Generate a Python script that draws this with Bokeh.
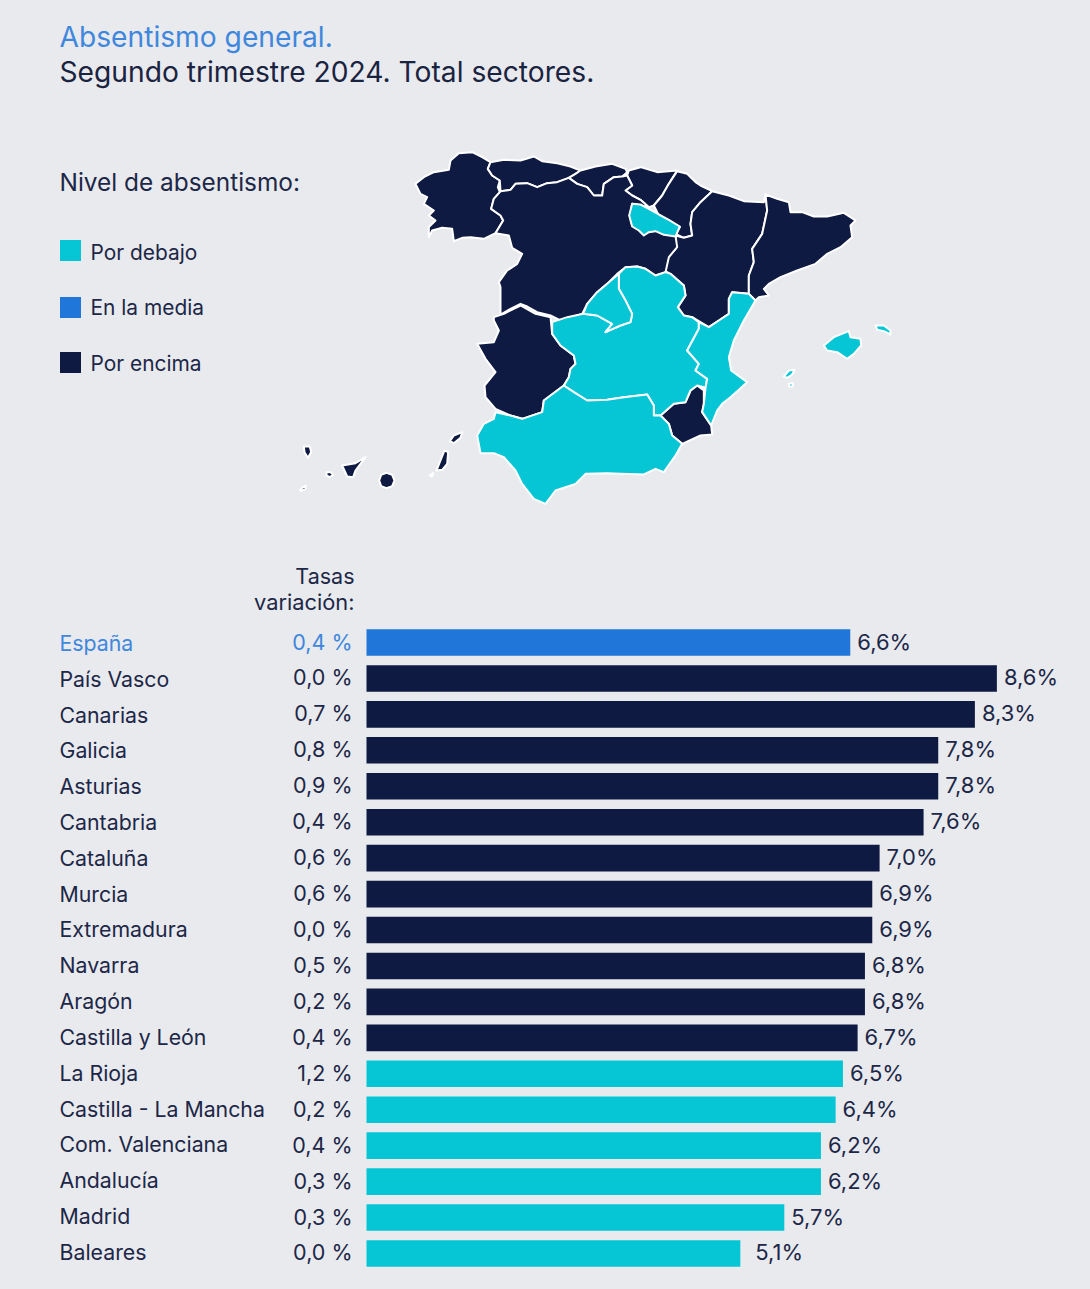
from bokeh.core.properties import value
from bokeh.embed import file_html
from bokeh.resources import INLINE
from bokeh.models import ColumnDataSource, Range1d
from bokeh.plotting import figure

# ---------- data ----------
title_lines = ["Absentismo general.", "Segundo trimestre 2024. Total sectores."]
legend_title = "Nivel de absentismo:"
legend_labels = ["Por debajo", "En la media", "Por encima"]
heading_lines = ["Tasas", "variación:"]

categories = ["España", "País Vasco", "Canarias", "Galicia", "Asturias", "Cantabria", "Cataluña", "Murcia",
              "Extremadura", "Navarra", "Aragón", "Castilla y León", "La Rioja", "Castilla - La Mancha",
              "Com. Valenciana", "Andalucía", "Madrid", "Baleares"]
values = [6.6, 8.6, 8.3, 7.8, 7.8, 7.6, 7.0, 6.9, 6.9, 6.8, 6.8, 6.7, 6.5, 6.4, 6.2, 6.2, 5.7, 5.1]
variation = [0.4, 0.0, 0.7, 0.8, 0.9, 0.4, 0.6, 0.6, 0.0, 0.5, 0.2, 0.4, 1.2, 0.2, 0.4, 0.3, 0.3, 0.0]
levels = ["En la media"] + ["Por encima"] * 11 + ["Por debajo"] * 6

# region outlines in map grid units
galicia = [(45,130),(70,110),(100,95),(145,88),(150,60),(175,38),(215,35),(245,50),(270,65),(262,85),(275,105),(298,120),(292,140),(298,155),(280,175),(272,205),(300,225),(308,240),(285,278),(250,295),(210,290),(185,292),(160,302),(155,265),(125,262),(95,270),(85,290),(85,260),(105,240),(85,225),(100,210),(70,190),(80,170),(60,160)]
asturias = [(270,65),(310,58),(360,60),(400,48),(425,62),(470,68),(510,78),(540,90),(525,100),(505,112),(470,125),(440,128),(410,140),(380,128),(345,130),(330,148),(300,152),(298,120),(275,105),(262,85)]
cantabria = [(540,90),(585,78),(635,70),(675,85),(680,95),(665,108),(640,110),(610,130),(605,165),(580,165),(560,140),(530,130),(505,112),(525,100)]
pais_vasco = [(685,90),(720,80),(770,95),(830,90),(805,130),(785,165),(760,195),(745,200),(720,178),(695,165),(675,150),(695,135),(680,105)]
navarra = [(830,92),(860,100),(885,125),(900,135),(935,152),(900,185),(875,215),(870,250),(875,285),(850,292),(825,280),(838,260),(805,240),(775,225),(760,195),(785,165),(805,130)]
aragon = [(935,152),(985,165),(1030,182),(1090,185),(1095,162),(1100,210),(1085,280),(1055,325),(1060,365),(1045,405),(1045,460),(995,455),(985,475),(985,520),(955,540),(925,560),(900,545),(875,530),(850,525),(832,500),(855,465),(850,435),(810,400),(790,390),(795,360),(825,325),(825,285),(850,292),(875,285),(870,250),(875,215),(900,185)]
cataluna = [(1095,162),(1130,175),(1165,185),(1170,215),(1205,215),(1240,228),(1280,228),(1330,217),(1365,240),(1350,255),(1355,290),(1320,320),(1280,340),(1245,370),(1190,390),(1140,410),(1105,430),(1090,445),(1105,465),(1075,470),(1065,480),(1045,460),(1045,405),(1060,365),(1055,325),(1085,280),(1100,210)]
castilla_leon = [(300,152),(330,148),(345,130),(380,128),(410,140),(440,128),(470,125),(505,112),(530,130),(560,140),(580,165),(605,165),(610,130),(640,110),(665,108),(680,105),(695,135),(675,150),(695,165),(720,178),(745,200),(695,190),(688,225),(695,255),(715,265),(730,282),(745,270),(765,268),(790,280),(825,285),(830,320),(805,350),(795,395),(765,405),(735,385),(710,378),(675,380),(650,400),(620,430),(590,455),(560,490),(545,520),(480,540),(450,525),(410,515),(380,498),(360,490),(330,505),(300,522),(300,440),(295,425),(320,390),(350,370),(365,340),(335,322),(325,285),(285,278),(308,240),(300,225),(272,205),(280,175),(298,155)]
la_rioja = [(695,190),(720,192),(745,205),(775,222),(805,238),(838,258),(825,288),(790,283),(765,272),(745,275),(730,285),(715,270),(695,258),(686,225)]
madrid = [(655,400),(620,430),(590,455),(560,490),(548,520),(590,525),(635,550),(615,575),(660,555),(690,545),(695,520),(675,480),(655,445)]
castilla_mancha = [(455,545),(500,530),(548,520),(590,525),(635,550),(615,575),(660,555),(690,545),(695,520),(675,480),(655,445),(655,400),(675,380),(710,378),(735,385),(765,405),(795,395),(810,400),(850,435),(855,465),(832,500),(850,525),(875,530),(895,545),(895,565),(860,630),(895,670),(885,690),(920,715),(915,742),(890,735),(870,750),(855,785),(820,790),(780,825),(760,825),(760,795),(740,762),(670,770),(620,778),(560,780),(520,755),(490,735),(505,710),(510,685),(525,670),(520,645),(480,615),(455,580)]
valencia = [(995,455),(1045,460),(1065,480),(1030,540),(1000,600),(985,650),(992,690),(1040,725),(990,770),(965,790),(950,810),(932,855),(905,815),(910,790),(915,742),(920,715),(885,690),(895,670),(860,630),(895,565),(895,545),(925,560),(955,540),(985,520),(985,475)]
murcia = [(780,825),(820,790),(855,785),(870,750),(890,735),(910,750),(910,790),(905,815),(932,855),(935,882),(900,885),(845,910),(815,885),(805,850)]
andalucia = [(285,815),(330,825),(365,835),(425,815),(430,780),(490,735),(520,755),(560,780),(620,778),(670,770),(740,762),(760,795),(760,825),(780,825),(805,850),(815,885),(845,910),(825,945),(790,995),(765,985),(730,1002),(660,1000),(620,998),(555,1000),(525,1030),(465,1050),(435,1090),(400,1075),(365,1030),(345,990),(310,950),(280,938),(240,938),(230,885),(250,850),(280,835)]
extremadura = [(280,530),(310,520),(360,495),(405,520),(450,530),(455,580),(480,615),(520,645),(525,670),(510,685),(505,710),(490,735),(430,780),(425,815),(365,835),(330,825),(285,805),(255,770),(252,735),(285,695),(255,655),(230,610),(280,605),(295,570),(280,540)]
mallorca = [(1270,615),(1300,590),(1345,572),(1350,590),(1380,595),(1382,615),(1360,640),(1340,655),(1310,635),(1280,630)]
menorca = [(1425,555),(1450,555),(1470,570),(1470,582),(1450,572),(1430,568)]
ibiza = [(1150,708),(1165,690),(1182,688),(1175,702),(1160,712)]
formentera = [(1165,730),(1178,728),(1176,738),(1166,738)]
la_palma = [(-290,918),(-272,918),(-268,935),(-278,952),(-288,935)]
la_gomera = [(-222,995),(-210,995),(-202,1003),(-212,1010),(-222,1005)]
el_hierro = [(-302,1048),(-285,1035),(-285,1045),(-298,1052)]
tenerife = [(-175,975),(-135,968),(-105,950),(-135,990),(-142,1010),(-160,1008)]
gran_canaria = [(-42,997),(-25,1003),(-18,1020),(-25,1037),(-42,1043),(-58,1037),(-64,1020),(-58,1003)]
fuerteventura = [(132,930),(143,935),(140,970),(125,988),(108,990),(120,960)]
lanzarote = [(148,902),(160,885),(185,875),(180,892),(160,908)]
la_graciosa = [(88,1005),(98,998),(95,1008)]

map_regions = [
    (galicia, "Por encima"), (asturias, "Por encima"), (cantabria, "Por encima"), (pais_vasco, "Por encima"),
    (navarra, "Por encima"), (aragon, "Por encima"), (cataluna, "Por encima"), (castilla_leon, "Por encima"),
    (extremadura, "Por encima"), (murcia, "Por encima"), (la_rioja, "Por debajo"), (castilla_mancha, "Por debajo"),
    (madrid, "Por debajo"), (valencia, "Por debajo"), (andalucia, "Por debajo"), (mallorca, "Por debajo"),
    (menorca, "Por debajo"), (ibiza, "Por debajo"), (formentera, "Por debajo"),
    (la_palma, "Por encima"), (la_gomera, "Por encima"), (el_hierro, "Por encima"), (tenerife, "Por encima"),
    (gran_canaria, "Por encima"), (fuerteventura, "Por encima"), (lanzarote, "Por encima"), (la_graciosa, "Por encima"),
]

# ---------- style ----------
BG = "#e8eaee"
INK = "#1d2747"
BLUE_TEXT = "#3f87dc"
COLORS = {"Por debajo": "#06c6d6", "En la media": "#2176d9", "Por encima": "#0f1a42"}
FONT = value("Inter")

W, H = 1090, 1289
PAGE_L, PAGE_T = 0, 0

p = figure(width=W, height=H, output_backend="svg", toolbar_location=None,
           x_axis_location=None, y_axis_location=None, min_border=0,
           x_range=Range1d(PAGE_L, PAGE_L + W), y_range=Range1d(PAGE_T + H, PAGE_T),
           background_fill_color=BG, border_fill_color=BG, outline_line_color=None)
p.grid.visible = False

# scale of bars: percent units and row units
BAR_ZERO, PX_PER_PCT = 366.0, 73.3
ROW_ZERO, PX_PER_ROW = 642.0, 35.94
MAP_X0, MAP_Y0, MAP_SCALE = 400.0, 140.0, 3.0
p.extra_x_ranges = {
    "pct": Range1d((PAGE_L - BAR_ZERO) / PX_PER_PCT, (PAGE_L + W - BAR_ZERO) / PX_PER_PCT),
    "map": Range1d((PAGE_L - MAP_X0) * MAP_SCALE, (PAGE_L + W - MAP_X0) * MAP_SCALE),
}
p.extra_y_ranges = {
    "row": Range1d((PAGE_T + H - ROW_ZERO) / PX_PER_ROW, (PAGE_T - ROW_ZERO) / PX_PER_ROW),
    "map": Range1d((PAGE_T + H - MAP_Y0) * MAP_SCALE, (PAGE_T - MAP_Y0) * MAP_SCALE),
}

def txt(x, y, s, size, color=INK, align="left", **kw):
    p.text(x=[x], y=[y], text=[s], text_font=FONT, text_font_size=f"{size}px", text_color=color,
           text_align=align, text_baseline="middle", **kw)

# titles
txt(59, 36, title_lines[0], 28.2, BLUE_TEXT)
txt(59, 71, title_lines[1], 28.2, "#1a2340")

# legend
txt(59, 181, legend_title, 24.4)
legend_y = [250, 307, 362]
p.scatter(x=[70] * 3, y=legend_y, marker="square", size=21, line_color=None,
          fill_color=[COLORS[l] for l in legend_labels])
for lab, y in zip(legend_labels, [252, 307, 363]):
    txt(90, y, lab, 20.9)

# map
p.patches(xs=[[pt[0] for pt in r] for r, _ in map_regions],
          ys=[[pt[1] for pt in r] for r, _ in map_regions],
          fill_color=[COLORS[l] for _, l in map_regions],
          line_color="#ffffff", line_width=2, line_join="round",
          x_range_name="map", y_range_name="map")

# bars
n = len(categories)
src = ColumnDataSource(dict(
    row=list(range(n)),
    cat=categories,
    val=values,
    val_txt=[f"{v:.1f}%".replace(".", ",") for v in values],
    var_txt=[f"{v:.1f} %".replace(".", ",") for v in variation],
    bar=[COLORS[l] for l in levels],
    ink=[BLUE_TEXT if l == "En la media" else INK for l in levels],
    gap=[15 if c == "Baleares" else 7 for c in categories],
    cat_dy=[0.5 - 2.2 * i / (n - 1) for i in range(n)],
))
p.hbar(y="row", left=0, right="val", height=0.74, fill_color="bar", line_color=None, source=src,
       x_range_name="pct", y_range_name="row")
p.text(x=59, y="row", text="cat", text_color="ink", text_font=FONT, text_font_size="21.3px",
       text_baseline="middle", y_offset="cat_dy", source=src, y_range_name="row")
p.text(x=352, y="row", text="var_txt", text_color="ink", text_font=FONT, text_font_size="21.5px",
       text_align="right", text_baseline="middle", y_offset=-1, source=src, y_range_name="row")
p.text(x="val", y="row", text="val_txt", text_color=INK, text_font=FONT, text_font_size="22px",
       text_baseline="middle", x_offset="gap", y_offset=-1, source=src, x_range_name="pct", y_range_name="row")

# heading
txt(354, 575, heading_lines[0], 21.5, align="right")
txt(354, 601, heading_lines[1], 21.8, align="right")

html = file_html(p, INLINE)
html = html.replace("</head>", f"<style>html,body{{background:{BG};}}</style></head>", 1)
open("out.html", "w").write(html)
